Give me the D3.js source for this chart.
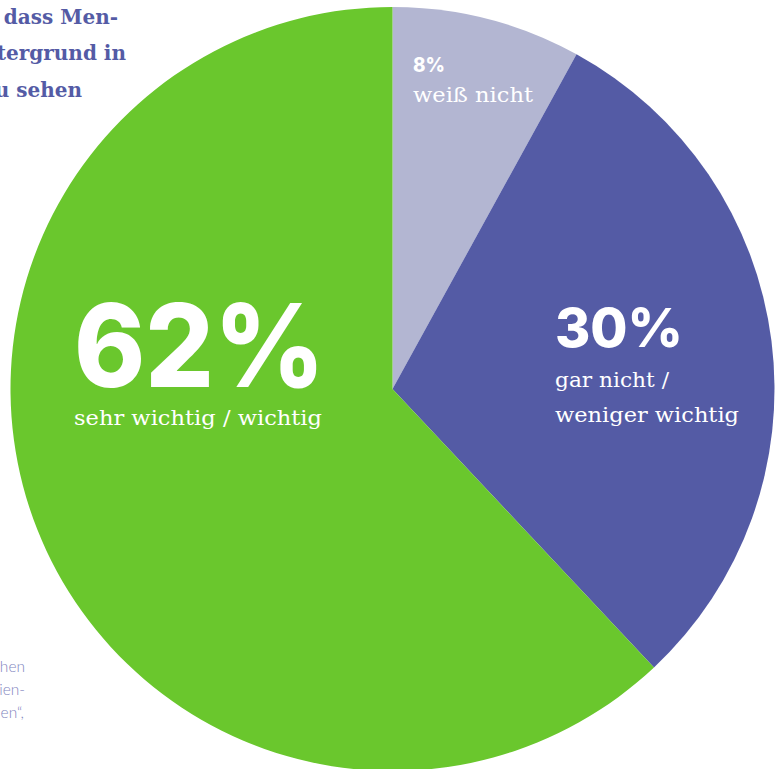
<!DOCTYPE html>
<html><head><meta charset="utf-8">
<script src="https://cdn.jsdelivr.net/npm/d3@7"></script>
<style>html,body{margin:0;padding:0;background:#fff;overflow:hidden}svg{display:block}</style>
</head><body>
<svg id="c" width="779" height="769"></svg>
<script>
const categories = ["weiß nicht", "gar nicht / weniger wichtig", "sehr wichtig / wichtig"];
const values = [8, 30, 62];
const pctLabels = ["8%", "30%", "62%"];
const subLabels = [["weiß nicht"], ["gar nicht /", "weniger wichtig"], ["sehr wichtig / wichtig"]];
const colors = ["#b3b6d2", "#545ba5", "#6ac72d"];
const titleLines = ["dass Men-", "tergrund in", "u sehen"];
const noteLines = ["hen", "ien-", "en“,"];

const svg = d3.select("#c");
const cx = 392.5, cy = 389, R = 382;
const g = svg.append("g").attr("transform", `translate(${cx},${cy})`);
const pie = d3.pie().sort(null).value(d => d)(values);
const arc = d3.arc().innerRadius(0).outerRadius(R);
g.selectAll("path").data(pie).join("path")
  .attr("d", arc).attr("fill", (d, i) => colors[i]);

// label layout (x, pct baseline, pct size, pct width, sub baselines, sub size)
const layout = [
  {x: 413, py: 72, ps: 20, pw: 32, sy: [102], ss: 21},
  {x: 555, py: 347, ps: 54, pw: 128, sy: [387, 422], ss: 21},
  {x: 74, py: 387, ps: 115, pw: 251, sy: [425], ss: 21}
];
const subW = {"weiß nicht": 120, "gar nicht /": 114, "weniger wichtig": 184, "sehr wichtig / wichtig": 248};

layout.forEach((L, i) => {
  svg.append("text").attr("x", L.x).attr("y", L.py)
    .attr("font-family", "Inter, 'Open Sans', sans-serif").attr("font-weight", 800)
    .attr("font-size", L.ps).attr("fill", "#fff")
    .attr("textLength", L.pw).attr("lengthAdjust", "spacingAndGlyphs")
    .text(pctLabels[i]);
  subLabels[i].forEach((s, j) => {
    svg.append("text").attr("x", L.x).attr("y", L.sy[j])
      .attr("font-family", "'DejaVu Serif', serif").attr("font-size", L.ss).attr("fill", "#fff")
      .attr("textLength", subW[s]).attr("lengthAdjust", "spacingAndGlyphs")
      .text(s);
  });
});

// cropped title text (top-left)
const tRight = [118, 126, 82], tBase = [24, 60, 97];
titleLines.forEach((t, i) => {
  svg.append("text").attr("x", tRight[i]).attr("y", tBase[i]).attr("text-anchor", "end")
    .attr("font-family", "'DejaVu Serif', serif").attr("font-weight", 700)
    .attr("font-size", 20).attr("fill", "#545ba5").text(t);
});

// cropped note text (bottom-left)
const nRight = [25, 25, 24], nBase = [672, 695, 718];
noteLines.forEach((t, i) => {
  svg.append("text").attr("x", nRight[i]).attr("y", nBase[i]).attr("text-anchor", "end")
    .attr("font-family", "Lato, sans-serif").attr("font-weight", 300)
    .attr("font-size", 15.5).attr("fill", "#8286c0").text(t);
});
</script>
</body></html>
